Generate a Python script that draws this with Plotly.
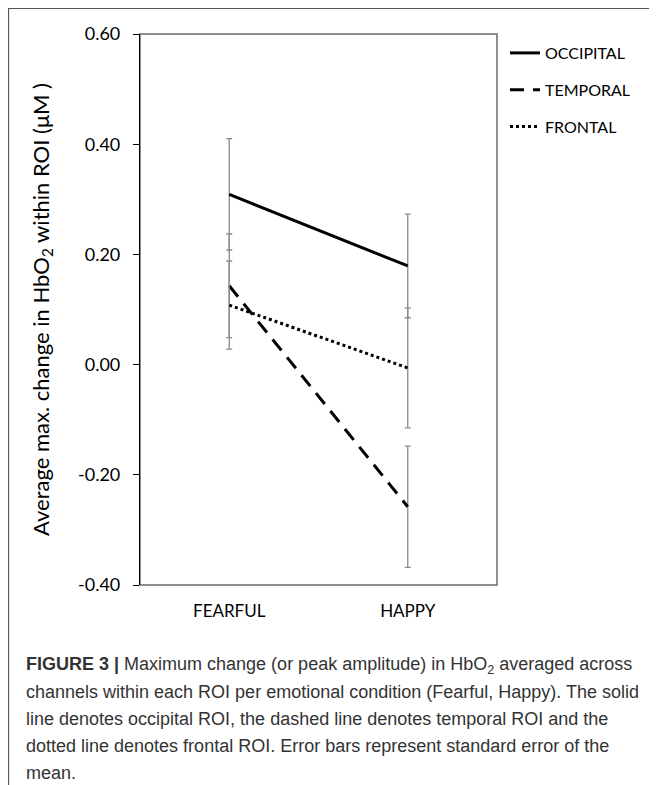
import plotly.graph_objects as go

# ---- data ----
conditions = ["FEARFUL", "HAPPY"]
series_names = ["OCCIPITAL", "TEMPORAL", "FRONTAL"]
occipital = [0.309, 0.179]
temporal = [0.143, -0.258]
frontal = [0.108, -0.006]
occipital_se = [0.101, 0.094]
temporal_se = [0.094, 0.110]
frontal_se = [0.080, 0.109]
y_ticks = [-0.40, -0.20, 0.00, 0.20, 0.40, 0.60]
y_tick_labels = ["-0.40", "-0.20", "0.00", "0.20", "0.40", "0.60"]

caption_lines = [
    "<b>FIGURE 3 |</b> Maximum change (or peak amplitude) in HbO<sub>2</sub> averaged across",
    "channels within each ROI per emotional condition (Fearful, Happy). The solid",
    "line denotes occipital ROI, the dashed line denotes temporal ROI and the",
    "dotted line denotes frontal ROI. Error bars represent standard error of the",
    "mean.",
]

# the page body adds an 8px offset; the figure starts at (8, 8) of the window
OFF = 8
W, H = 657 - OFF, 785 - OFF
L, R, T, B = 140 - OFF, 657 - 497, 34 - OFF, 785 - 585
PW, PH = W - L - R, H - T - B

def px_x(p):  # window pixel -> paper x
    return (p - OFF - L) / PW

def px_y(p):  # window pixel -> paper y
    return (H - B - (p - OFF)) / PH

CHART_FONT = "Lato, Noto Sans, sans-serif"
CAP_FONT = "Liberation Sans, Arial, sans-serif"

fig = go.Figure()
styles = [
    (occipital, occipital_se, "solid"),
    (temporal, temporal_se, "14px,9px"),
    (frontal, frontal_se, "3px,3px"),
]
for name, (vals, se, dash) in zip(series_names, styles):
    fig.add_trace(go.Scatter(
        x=conditions, y=vals, name=name, mode="lines",
        legendgroup=name,
        line=dict(color="black", width=3, dash=dash),
        error_y=dict(type="data", array=se, visible=True,
                     color="#8a8a8a", thickness=1.3, width=3),
    ))

fig.update_layout(
    width=W, height=H,
    margin=dict(l=L, r=R, t=T, b=B, pad=0),
    paper_bgcolor="white", plot_bgcolor="white",
    font=dict(family=CHART_FONT, color="black", size=17),
    showlegend=True,
    legend=dict(x=px_x(505), y=px_y(36), xanchor="left", yanchor="top",
                font=dict(family=CHART_FONT, size=16, color="black"),
                tracegroupgap=13, bgcolor="rgba(0,0,0,0)",
                itemwidth=30),
    xaxis=dict(range=[-0.5, 1.5], type="category", showgrid=False,
               showline=False, ticks="", zeroline=False,
               tickfont=dict(size=17, family=CHART_FONT),
               ticklabelstandoff=14),
    yaxis=dict(range=[-0.40, 0.60], tickvals=y_ticks, ticktext=y_tick_labels,
               showgrid=False, zeroline=False, showline=True,
               linecolor="black", linewidth=1.2, ticks="outside",
               ticklen=6, tickcolor="black", tickwidth=1,
               tickfont=dict(size=18, family=CHART_FONT),
               ticklabelstandoff=9,
               title=dict(text="Average max. change in HbO<sub>2</sub> within ROI (μM )",
                          font=dict(size=22, family=CHART_FONT), standoff=22)),
)

# plot box (gray) and outer figure frame
fig.add_shape(type="rect", xref="paper", yref="paper", x0=0, y0=0, x1=1, y1=1,
              line=dict(color="#6a6a6a", width=1.5), layer="below")
fig.add_shape(type="line", xref="paper", yref="paper",
              x0=px_x(8), y0=px_y(8.5), x1=px_x(800), y1=px_y(8.5),
              line=dict(color="#555555", width=1.2))
fig.add_shape(type="line", xref="paper", yref="paper",
              x0=px_x(8.5), y0=px_y(8), x1=px_x(8.5), y1=px_y(900),
              line=dict(color="#555555", width=1.2))

line_y = [665, 692, 719, 746, 773]
for txt, yy in zip(caption_lines, line_y):
    fig.add_annotation(text=txt, xref="paper", yref="paper",
                       x=px_x(24), y=px_y(yy), xanchor="left", yanchor="middle",
                       showarrow=False, align="left",
                       font=dict(family=CAP_FONT, size=18, color="#333333"))

fig.write_html("out.html")
